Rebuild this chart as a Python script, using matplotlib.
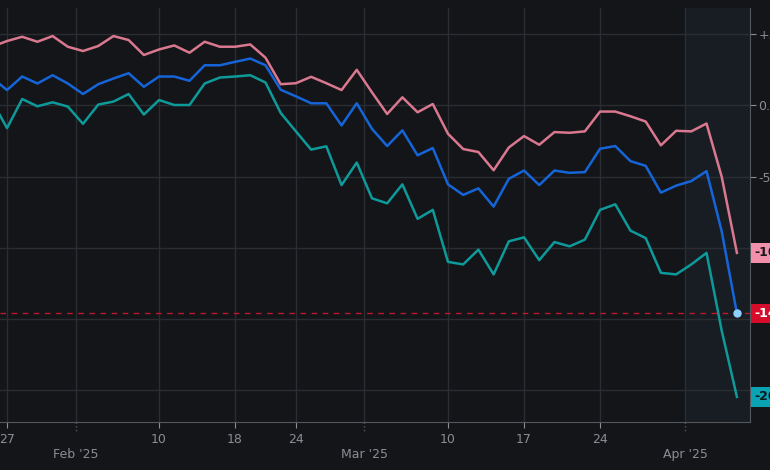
import matplotlib.pyplot as plt
import numpy as np

# trading-day index, -1 = Jan 24 2025, 48 = Apr 4 2025
pink = [4.11, 4.51, 4.81, 4.46, 4.86, 4.11, 3.81, 4.16, 4.86, 4.58,
        3.53, 3.92, 4.20, 3.69, 4.46, 4.11, 4.11, 4.27, 3.34, 1.48,
        1.55, 2.00, 1.55, 1.07, 2.49, 0.91, -0.61, 0.56, -0.49, 0.09,
        -2.00, -3.07, -3.28, -4.56, -2.96, -2.16, -2.77, -1.88, -1.93, -1.83,
        -0.44, -0.44, -0.77, -1.14, -2.81, -1.79, -1.83, -1.28, -5.02, -10.36]
blue = [1.95, 1.07, 2.02, 1.53, 2.11, 1.53, 0.79, 1.48, 1.88, 2.25,
        1.30, 2.02, 2.02, 1.72, 2.81, 2.81, 3.05, 3.28, 2.81, 1.09,
        0.63, 0.14, 0.14, -1.41, 0.14, -1.65, -2.86, -1.76, -3.51, -3.00,
        -5.55, -6.29, -5.83, -7.11, -5.16, -4.58, -5.60, -4.58, -4.74, -4.69,
        -3.05, -2.86, -3.92, -4.25, -6.13, -5.64, -5.32, -4.62, -8.85, -14.61]
teal = [0.33, -1.60, 0.44, -0.07, 0.21, -0.09, -1.30, 0.05, 0.26, 0.79,
        -0.65, 0.37, 0.02, 0.02, 1.53, 1.95, 2.02, 2.11, 1.60, -0.54,
        -1.83, -3.11, -2.88, -5.60, -4.02, -6.53, -6.88, -5.55, -7.97, -7.34,
        -10.99, -11.17, -10.13, -11.87, -9.55, -9.27, -10.87, -9.60, -9.90, -9.43,
        -7.34, -6.95, -8.80, -9.32, -11.76, -11.87, -11.17, -10.36, -15.82, -20.47]

day_ticks = [0, 10, 15, 19, 29, 34, 39]
day_labels = ["27", "10", "18", "24", "10", "17", "24"]
month_ticks = [4.54, 23.5, 44.6]
month_labels = ["Feb '25", "Mar '25", "Apr '25"]
y_ticks = [5, 0, -5, -10, -15, -20]
y_labels = ["+5.0%", "0.0%", "-5.0%", "", "", ""]  # lower ones sit under the tags

BG = "#131519"
GRID = "#2a2d31"
TXT = "#8a8d92"
PINK, BLUE, TEAL = "#d9788f", "#1565d8", "#0e9a9a"

x = np.arange(-1, len(pink) - 1)

fig = plt.figure(figsize=(7.7, 4.7), dpi=100, facecolor=BG)
ax = fig.add_axes([0, 48 / 470, 750 / 770, 414 / 470], facecolor=BG)

ax.set_xlim(-0.46, 48.86)
y_top = (103 - 5) / 14.35
y_bot = (103 - 422) / 14.35
ax.set_ylim(y_bot, y_top)

ax.axvspan(44.6, 48.86, color="#181d24", zorder=0)

for v in y_ticks:
    ax.axhline(v, color=GRID, lw=1, zorder=1)
for t in day_ticks + month_ticks:
    ax.axvline(t, color=GRID, lw=1, zorder=1)

ax.axhline(blue[-1], color="#c0172f", lw=1, ls=(0, (4, 4)), zorder=2)

ax.plot(x, pink, color=PINK, lw=1.8, zorder=3)
ax.plot(x, teal, color=TEAL, lw=1.8, zorder=3)
ax.plot(x, blue, color=BLUE, lw=1.8, zorder=4)
ax.plot(x[-1], blue[-1], "o", color="#8fd0ff", ms=5, zorder=5)

for s in ["top", "left"]:
    ax.spines[s].set_visible(False)
for s in ["right", "bottom"]:
    ax.spines[s].set_color("#55585c")

ax.yaxis.tick_right()
ax.set_yticks(y_ticks)
ax.set_yticklabels(y_labels)
ax.tick_params(axis="y", colors=TXT, labelsize=9, length=4, pad=2)

ax.set_xticks(day_ticks)
ax.set_xticklabels(day_labels)
ax.tick_params(axis="x", colors=TXT, labelsize=9, length=4, pad=4)
for t, lab in zip(month_ticks, month_labels):
    ax.plot([t, t], [y_bot, y_bot - 0.8], color="#55585c", lw=1, ls=":", clip_on=False)
    ax.text(t, y_bot - 2.3, lab, color=TXT, fontsize=9, ha="center", va="center")

tags = [(pink[-1], "-10.36%", "#f28fab", "#1a1a1a"),
        (blue[-1], "-14.61%", "#d70c2b", "white"),
        (teal[-1], "-20.47%", "#0aa3b3", "#0b1a1c")]
for v, s, bg, fg in tags:
    ax.text(49.15, v, s, color=fg, fontsize=9, fontweight="bold", va="center", ha="left",
            bbox=dict(boxstyle="square,pad=0.25", fc=bg, ec="none"), clip_on=False)

fig.savefig("out.png", dpi=100, facecolor=BG)
